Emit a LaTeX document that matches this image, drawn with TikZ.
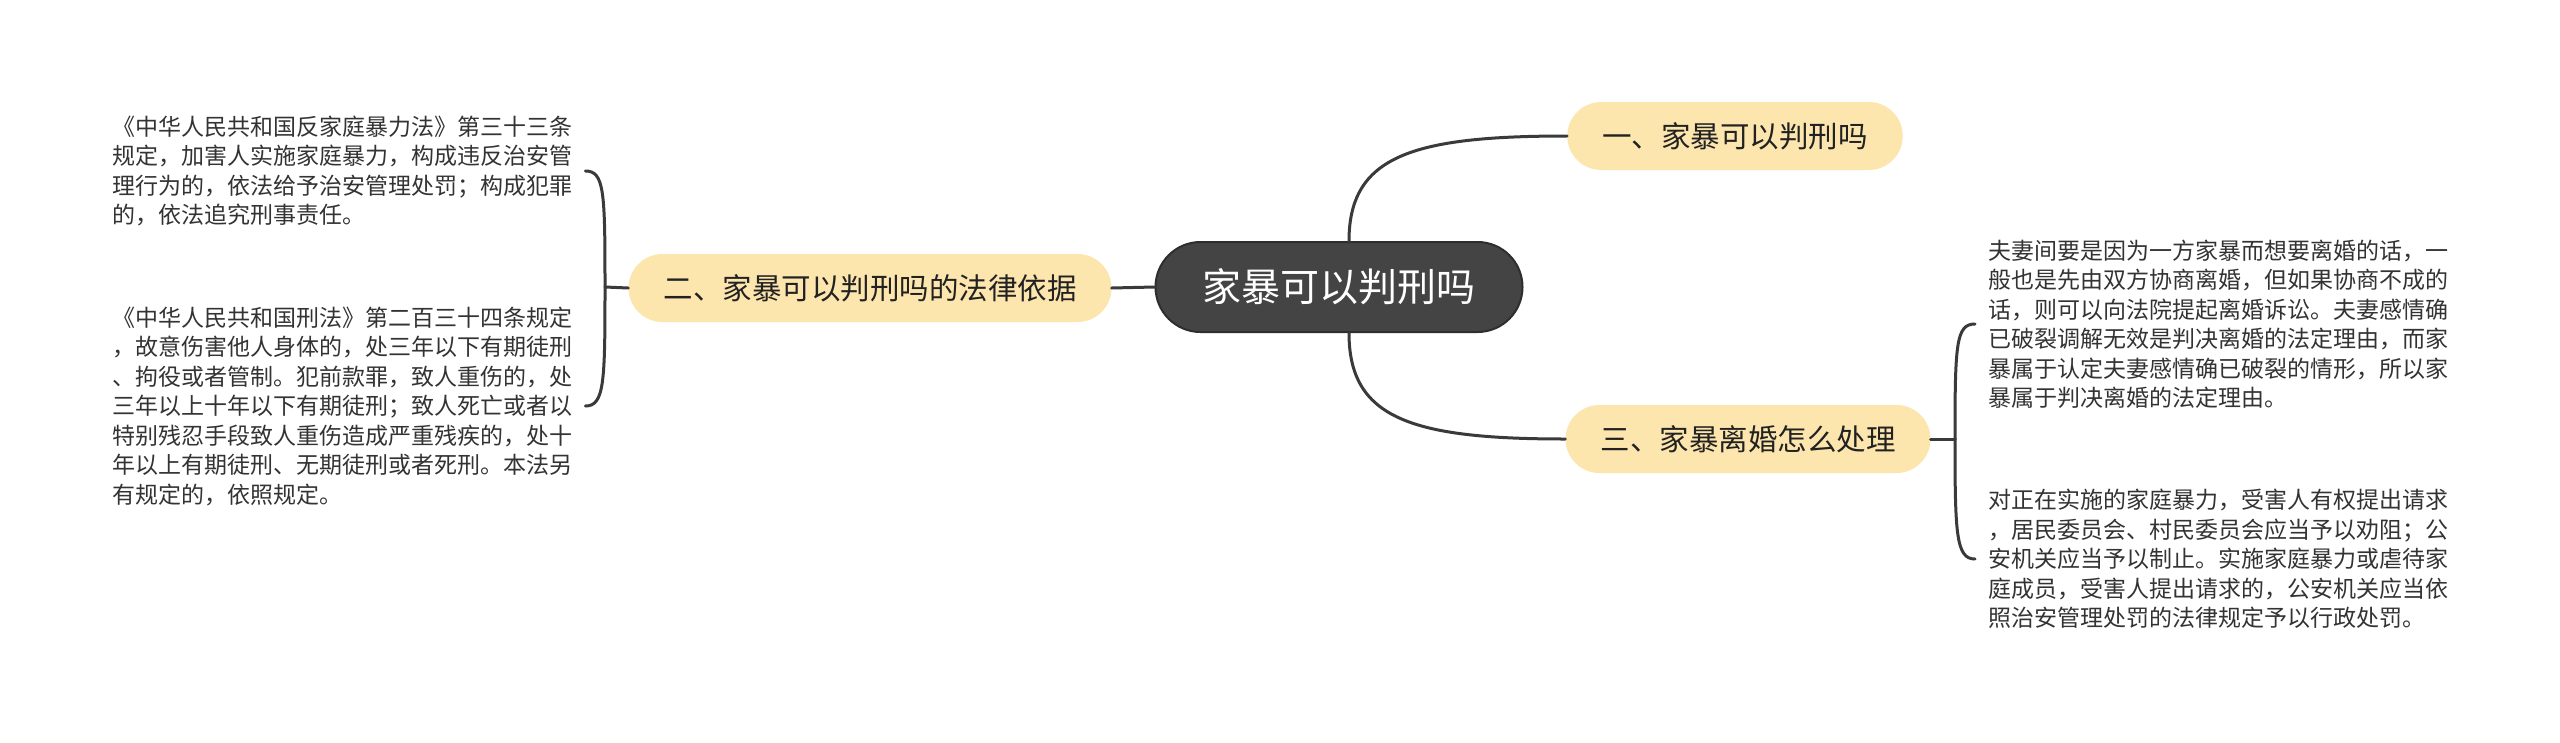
\documentclass[tikz,border=0pt]{standalone}
\usepackage{fontspec}
\setmainfont{Noto Sans CJK SC}
\definecolor{linec}{HTML}{3A3A3A}
\definecolor{topicfill}{HTML}{FDE6AE}
\definecolor{rootfill}{HTML}{444444}
\definecolor{rootdraw}{HTML}{2E2E2E}
\definecolor{bodyc}{HTML}{333333}
\definecolor{topictext}{HTML}{222222}
\tikzset{
  conn/.style={draw=linec, line width=3pt, line cap=round},
  topic/.style={fill=topicfill, rounded corners=34pt, inner xsep=35pt, inner ysep=0pt,
    minimum height=68pt, text=topictext, font=\fontsize{29.5pt}{29.5pt}\selectfont},
  rootnode/.style={fill=rootfill, draw=rootdraw, line width=2pt, rounded corners=45pt,
    inner xsep=47pt, inner ysep=0pt, minimum height=90pt, text=white,
    font=\fontsize{39pt}{39pt}\selectfont},
  body/.style={align=left, inner sep=0pt, text=bodyc,
    font=\fontsize{23pt}{29.5pt}\selectfont}
}
\begin{document}
\begin{tikzpicture}[x=1pt,y=-1pt]
\useasboundingbox (0,0) rectangle (2560,742);
\fill[white] (0,0) rectangle (2560,742);

\node[rootnode] (root) at (1339,287) {家暴可以判刑吗};
\node[topic] (b1) at (1735,136) {一、家暴可以判刑吗};
\node[topic] (b2) at (870,288) {二、家暴可以判刑吗的法律依据};
\node[topic] (b3) at (1748,439) {三、家暴离婚怎么处理};

\node[body, anchor=west] (l1) at (112,171) {《中华人民共和国反家庭暴力法》第三十三条\\规定，加害人实施家庭暴力，构成违反治安管\\理行为的，依法给予治安管理处罚；构成犯罪\\的，依法追究刑事责任。};
\node[body, anchor=west] (l2) at (112,406) {《中华人民共和国刑法》第二百三十四条规定\\，故意伤害他人身体的，处三年以下有期徒刑\\、拘役或者管制。犯前款罪，致人重伤的，处\\三年以上十年以下有期徒刑；致人死亡或者以\\特别残忍手段致人重伤造成严重残疾的，处十\\年以上有期徒刑、无期徒刑或者死刑。本法另\\有规定的，依照规定。};
\node[body, anchor=west] (r1) at (1988,324) {夫妻间要是因为一方家暴而想要离婚的话，一\\般也是先由双方协商离婚，但如果协商不成的\\话，则可以向法院提起离婚诉讼。夫妻感情确\\已破裂调解无效是判决离婚的法定理由，而家\\暴属于认定夫妻感情确已破裂的情形，所以家\\暴属于判决离婚的法定理由。};
\node[body, anchor=west] (r2) at (1988,559) {对正在实施的家庭暴力，受害人有权提出请求\\，居民委员会、村民委员会应当予以劝阻；公\\安机关应当予以制止。实施家庭暴力或虐待家\\庭成员，受害人提出请求的，公安机关应当依\\照治安管理处罚的法律规定予以行政处罚。};

\coordinate (lj) at (605,287);
\coordinate (rj) at (1955,439);

% root to topics
\draw[conn] ([xshift=10pt]root.north) .. controls +(0,-85) and +(-155,0) .. (b1.west);
\draw[conn] ([xshift=10pt]root.south) .. controls +(0,85) and +(-155,0) .. (b3.west);
\draw[conn] (root.west) -- (b2.east);

% left bracket
\draw[conn] (b2.west) -- (lj);
\draw[conn] (lj) .. controls +(0,-95) and +(19,0) .. ([xshift=13pt]l1.east);
\draw[conn] (lj) .. controls +(0,95) and +(19,0) .. ([xshift=13pt]l2.east);

% right bracket
\draw[conn] (b3.east) -- (rj);
\draw[conn] (rj) .. controls +(0,-95) and +(-19,0) .. ([xshift=-13pt]r1.west);
\draw[conn] (rj) .. controls +(0,95) and +(-19,0) .. ([xshift=-13pt]r2.west);
\end{tikzpicture}
\end{document}
